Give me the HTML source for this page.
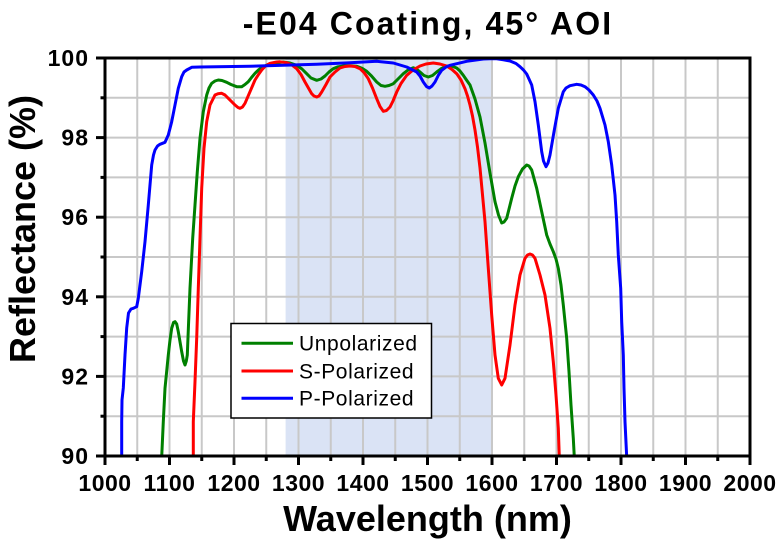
<!DOCTYPE html>
<html><head><meta charset="utf-8"><style>
html,body{margin:0;padding:0;background:#fff;}
svg{display:block;}
text{font-family:"Liberation Sans",Arial,sans-serif;fill:#000;}
</style></head><body>
<svg width="780" height="540" viewBox="0 0 780 540" xmlns="http://www.w3.org/2000/svg">
<rect x="0" y="0" width="780" height="540" fill="#fff"/>
<!-- shaded band -->
<rect x="285.6" y="58" width="206.4" height="398" fill="#dae3f5"/>
<!-- grid -->
<g stroke="#c8c8c8" stroke-width="2">
<line x1="137.25" y1="58" x2="137.25" y2="456"/>
<line x1="169.5" y1="58" x2="169.5" y2="456"/>
<line x1="201.75" y1="58" x2="201.75" y2="456"/>
<line x1="234" y1="58" x2="234" y2="456"/>
<line x1="266.25" y1="58" x2="266.25" y2="456"/>
<line x1="298.5" y1="58" x2="298.5" y2="456"/>
<line x1="330.75" y1="58" x2="330.75" y2="456"/>
<line x1="363" y1="58" x2="363" y2="456"/>
<line x1="395.25" y1="58" x2="395.25" y2="456"/>
<line x1="427.5" y1="58" x2="427.5" y2="456"/>
<line x1="459.75" y1="58" x2="459.75" y2="456"/>
<line x1="492" y1="58" x2="492" y2="456"/>
<line x1="524.25" y1="58" x2="524.25" y2="456"/>
<line x1="556.5" y1="58" x2="556.5" y2="456"/>
<line x1="588.75" y1="58" x2="588.75" y2="456"/>
<line x1="621" y1="58" x2="621" y2="456"/>
<line x1="653.25" y1="58" x2="653.25" y2="456"/>
<line x1="685.5" y1="58" x2="685.5" y2="456"/>
<line x1="717.75" y1="58" x2="717.75" y2="456"/>
<line x1="105" y1="97.8" x2="750" y2="97.8"/>
<line x1="105" y1="137.6" x2="750" y2="137.6"/>
<line x1="105" y1="177.4" x2="750" y2="177.4"/>
<line x1="105" y1="217.2" x2="750" y2="217.2"/>
<line x1="105" y1="257" x2="750" y2="257"/>
<line x1="105" y1="296.8" x2="750" y2="296.8"/>
<line x1="105" y1="336.6" x2="750" y2="336.6"/>
<line x1="105" y1="376.4" x2="750" y2="376.4"/>
<line x1="105" y1="416.2" x2="750" y2="416.2"/>
</g>
<defs><clipPath id="pc"><rect x="105" y="56" width="645" height="400"/></clipPath></defs>
<g clip-path="url(#pc)" fill="none" stroke-width="3" stroke-linejoin="round" stroke-linecap="butt">
<polyline stroke="#008000" points="161.7,457 163.3,421.7 165,388.3 168.3,355 170,340 171.7,328.3 173.5,322.5 175,321.7 176.7,324 178.3,331.7 181.7,351.7 183.5,361 185,365 186.3,361 187.3,355 188.5,325 190,288.3 192.7,238.3 195,205 197.3,171.7 200,138.3 203.3,111.7 206.7,95 209,88 211.7,83.3 215,81 218.3,80 222,80.5 226.7,82.3 231,84.5 236.7,86.7 241.7,86.7 245,84.5 248.3,81.7 251.5,77.5 255,73.3 259,69.5 263.3,66.7 268,64.5 273.3,63.3 283.3,62 290,63 296.7,65.3 302,69 306.7,73.7 311,78 316.7,80.3 321,79 325,76 329,72 333.3,68.7 338,66.8 343.3,66 350,65.8 356.7,66.3 362,68.3 366.7,71.3 371.5,76 376.7,82 381,85.5 385,86.3 389,85.5 393.3,83.7 398,79 403.3,73.7 408,70 413.3,67.7 417,69.5 420,72 424,75.5 428.3,77 432.5,75.5 436.7,72 441.5,68.5 446.7,66 451.5,66 456.7,68 460,71 463.3,75.3 466.5,80 470,85 475,99 480,117 485,143 490,173 495,201.7 498.5,215 501.7,223 504,222 506.7,218.3 511.7,198.3 515,186 518.3,176.7 522.5,169 526.7,165 529,166 531.7,170 536.7,188.3 541.7,211.7 546.7,235 550,244 553.3,251.7 556,259 558.3,268.3 561,285 563.3,305 566.7,338.3 569,371.7 571,405 573.3,438.3 574.3,457"/>
<polyline stroke="#ff0000" points="193.3,457 193.3,421.7 195,381.7 196.7,338.3 198.3,288.3 200,238.3 201.7,188.3 204,148.3 206.7,121.7 210,105 215,95 218,93.7 221.7,93.3 225,95 228.3,98.3 235,105 238,107.5 240,108.3 242.5,107 245,103.3 250,91.7 255,80 258.5,74.5 261.7,70 265.5,66 270,63.3 276.7,62 280,61.8 286.7,62.7 291.5,64.7 296.7,68.7 301,74.5 305,82 311.7,93.7 314,96 316.7,97 319,96 321.7,92 326,84.5 330,77 335,72 340,68 345,66.5 350,66 355,66.5 360,68.7 364,72.5 368.3,78.7 372.5,88 376.7,98.7 380,106.5 383.3,111.3 386.5,110.5 390,107 393,101 396.7,92 401,83.5 406.7,75.3 413,70 420,66 426,64 433.3,63 440,64 446.7,66 452,69.5 456.7,73.7 461,80 465,88.7 467.5,96 470,105 472.5,116 475,130 477.5,147 480,168 485,221.7 488.3,268.3 491.7,315 495,355 498.3,378.3 501.7,385 505,378.3 510,345 515,305 520,275 525,258.3 527.5,255 530,254 532.5,255 535,258.3 540,275 545,295 550,328.3 553.3,361.7 556,395 558.3,428.3 559.3,457"/>
<polyline stroke="#0000ff" points="121.7,457 121.7,421.7 122,400 123.3,388 125,355 126.7,328 128.5,313 131,309 133.3,308.3 136.7,306.7 138.3,298.3 141.7,271.7 145,241.7 148.3,205 151.7,165 153.5,155 155,150 157.5,146 160,144.3 165,142.3 168.3,135 171.7,121.7 175,105 178.3,88.3 181.7,76.7 184,72 186.7,70 191.7,67.3 200,67 216.7,66.7 250,66.3 283.3,65.3 316.7,64.3 350,62.7 376.7,61.3 393.3,63 406.7,67 416.7,72 420,76 423.3,82 426.5,86.5 429.3,88 432,86 435,82 438.5,75 441.7,70.3 446,67 450,65.3 466.7,61.3 483.3,59 490,58.8 496.7,58.8 503.3,59.8 510,61 516,63.5 520,66.7 523.5,70 526.7,74 529,79 531.7,85 535,101.7 538.3,125 541.7,151.7 543.5,161 546,166.7 548,163 550,155 554,131.7 558.3,108.3 563.3,91.7 566,88 570,85.7 576.7,84.3 581,85 585,86.7 589,90 593.3,95 597,101 600,108.3 605,125 608.3,141.7 611.7,165 615,195 616.7,221.7 618.3,255 620.7,288.3 621.7,321.7 623.3,355 624,388.3 625,421.7 626.7,457"/>
</g>
<!-- frame -->
<rect x="105" y="58" width="645" height="398" fill="none" stroke="#000" stroke-width="3"/>
<!-- ticks -->
<g stroke="#000" stroke-width="3">
<line x1="96" y1="58" x2="105" y2="58"/>
<line x1="96" y1="137.6" x2="105" y2="137.6"/>
<line x1="96" y1="217.2" x2="105" y2="217.2"/>
<line x1="96" y1="296.8" x2="105" y2="296.8"/>
<line x1="96" y1="376.4" x2="105" y2="376.4"/>
<line x1="96" y1="456" x2="105" y2="456"/>
<line x1="100.5" y1="97.8" x2="105" y2="97.8"/>
<line x1="100.5" y1="177.4" x2="105" y2="177.4"/>
<line x1="100.5" y1="257" x2="105" y2="257"/>
<line x1="100.5" y1="336.6" x2="105" y2="336.6"/>
<line x1="100.5" y1="416.2" x2="105" y2="416.2"/>
<line x1="105" y1="456" x2="105" y2="465"/>
<line x1="169.5" y1="456" x2="169.5" y2="465"/>
<line x1="234" y1="456" x2="234" y2="465"/>
<line x1="298.5" y1="456" x2="298.5" y2="465"/>
<line x1="363" y1="456" x2="363" y2="465"/>
<line x1="427.5" y1="456" x2="427.5" y2="465"/>
<line x1="492" y1="456" x2="492" y2="465"/>
<line x1="556.5" y1="456" x2="556.5" y2="465"/>
<line x1="621" y1="456" x2="621" y2="465"/>
<line x1="685.5" y1="456" x2="685.5" y2="465"/>
<line x1="750" y1="456" x2="750" y2="465"/>
<line x1="137.25" y1="456" x2="137.25" y2="461"/>
<line x1="201.75" y1="456" x2="201.75" y2="461"/>
<line x1="266.25" y1="456" x2="266.25" y2="461"/>
<line x1="330.75" y1="456" x2="330.75" y2="461"/>
<line x1="395.25" y1="456" x2="395.25" y2="461"/>
<line x1="459.75" y1="456" x2="459.75" y2="461"/>
<line x1="524.25" y1="456" x2="524.25" y2="461"/>
<line x1="588.75" y1="456" x2="588.75" y2="461"/>
<line x1="653.25" y1="456" x2="653.25" y2="461"/>
<line x1="717.75" y1="456" x2="717.75" y2="461"/>
</g>
<!-- y tick labels -->
<g font-size="23" font-weight="bold" text-anchor="end" letter-spacing="1">
<text x="89" y="66">100</text>
<text x="89" y="145.6">98</text>
<text x="89" y="225.2">96</text>
<text x="89" y="304.8">94</text>
<text x="89" y="384.4">92</text>
<text x="89" y="464">90</text>
</g>
<!-- x tick labels -->
<g font-size="23" font-weight="bold" text-anchor="middle" letter-spacing="0.5">
<text x="105" y="491">1000</text>
<text x="169.5" y="491">1100</text>
<text x="234" y="491">1200</text>
<text x="298.5" y="491">1300</text>
<text x="363" y="491">1400</text>
<text x="427.5" y="491">1500</text>
<text x="492" y="491">1600</text>
<text x="556.5" y="491">1700</text>
<text x="621" y="491">1800</text>
<text x="685.5" y="491">1900</text>
<text x="750" y="491">2000</text>
</g>
<!-- titles -->
<text x="428" y="34.5" font-size="32" font-weight="bold" text-anchor="middle" letter-spacing="2.1">-E04 Coating, 45° AOI</text>
<text x="427.5" y="531" font-size="36" font-weight="bold" text-anchor="middle">Wavelength (nm)</text>
<text transform="translate(35,229) rotate(-90)" x="0" y="0" font-size="36" font-weight="bold" text-anchor="middle">Reflectance (%)</text>
<!-- legend -->
<rect x="231" y="323.5" width="200.5" height="94.5" fill="#fff" stroke="#000" stroke-width="1.5"/>
<g stroke-width="3">
<line x1="241.5" y1="343.3" x2="293" y2="343.3" stroke="#008000"/>
<line x1="241.5" y1="371" x2="293" y2="371" stroke="#ff0000"/>
<line x1="241.5" y1="398.3" x2="293" y2="398.3" stroke="#0000ff"/>
</g>
<g font-size="21" letter-spacing="0.6">
<text x="299" y="350.5">Unpolarized</text>
<text x="299" y="378.3">S-Polarized</text>
<text x="299" y="405.5">P-Polarized</text>
</g>
</svg>
</body></html>
